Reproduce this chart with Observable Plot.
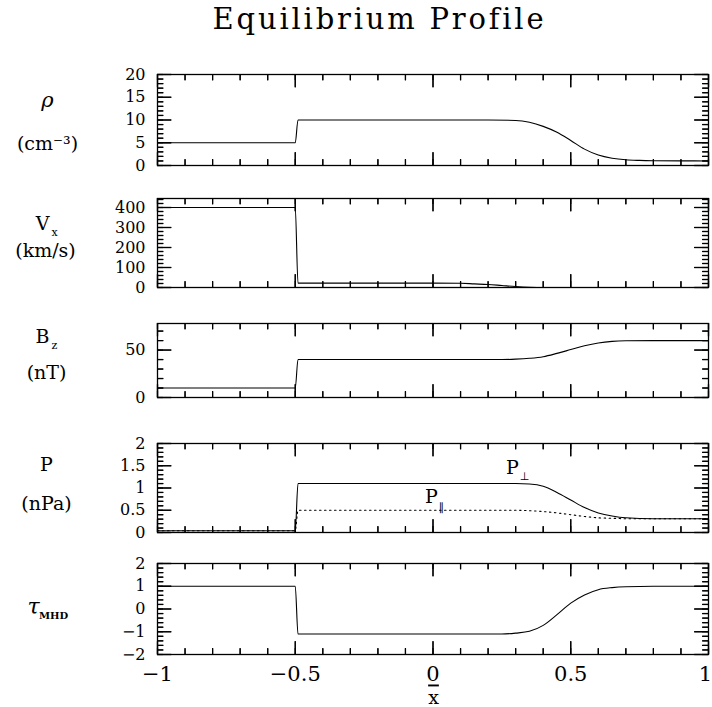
<!DOCTYPE html>
<html><head><meta charset="utf-8">
<script src="https://cdn.jsdelivr.net/npm/d3@7"></script>
<script src="https://cdn.jsdelivr.net/npm/@observablehq/plot@0.6"></script>
<style>
body{margin:0;background:#fff;}
#wrap{position:relative;width:712px;height:707px;overflow:hidden;}
#wrap svg{position:absolute;left:0;}
</style></head><body><div id="wrap"></div>
<script>
// ---- data ----
const xRho = [-1, -0.5, -0.49, 0, 0.2, 0.3, 0.35, 0.4, 0.45, 0.5, 0.55, 0.6, 0.65, 0.7, 0.75, 0.8, 0.9, 1];
const rho  = [5, 5, 10, 10, 10, 9.9, 9.5, 8.6, 7.3, 5.5, 3.6, 2.3, 1.6, 1.25, 1.12, 1.06, 1.02, 1.0];

const xVx = [-1, -0.5, -0.49, 0, 0.1, 0.15, 0.2, 0.25, 0.3, 0.35, 0.4, 0.5, 1];
const vx  = [400, 400, 22, 22, 21, 18, 15, 10, 5, 1.5, 0, 0, 0];

const xBz = [-1, -0.5, -0.49, 0, 0.25, 0.3, 0.35, 0.4, 0.45, 0.5, 0.55, 0.6, 0.65, 0.7, 0.8, 1];
const bz  = [10, 10, 40, 40, 40, 40.4, 41.3, 43, 46.5, 50.5, 54.5, 57.5, 59.2, 59.8, 60, 60];

const xPperp = [-1, -0.5, -0.49, 0, 0.25, 0.3, 0.35, 0.4, 0.45, 0.5, 0.55, 0.6, 0.65, 0.7, 0.8, 1];
const pPerp  = [0.04, 0.04, 1.1, 1.1, 1.1, 1.1, 1.09, 1.04, 0.9, 0.73, 0.56, 0.44, 0.37, 0.33, 0.31, 0.31];

const xPpar = [-1, -0.5, -0.49, 0, 0.3, 0.35, 0.4, 0.45, 0.5, 0.55, 0.6, 0.65, 0.7, 0.8, 1];
const pPar  = [0.04, 0.04, 0.5, 0.5, 0.5, 0.49, 0.47, 0.44, 0.4, 0.36, 0.33, 0.32, 0.31, 0.31, 0.31];

const xTau = [-1, -0.5, -0.49, 0, 0.25, 0.3, 0.35, 0.4, 0.45, 0.5, 0.55, 0.6, 0.65, 0.7, 0.8, 1];
const tau  = [1, 1, -1.1, -1.1, -1.1, -1.06, -0.98, -0.72, -0.25, 0.26, 0.62, 0.85, 0.94, 0.98, 1, 1];

// ---- ticks ----
const xMajor = [-1, -0.5, 0, 0.5, 1];
const xMinor = d3.range(-10, 11).map(i => i / 10);
const xTickLabels = ["−1", "−0.5", "0", "0.5", "1"];

const yRhoMajor = [0, 5, 10, 15, 20], yRhoMinor = d3.range(0, 21), yRhoLabels = ["0","5","10","15","20"];
const yVxMajor = [0, 100, 200, 300, 400], yVxMinor = d3.range(0, 445, 20), yVxLabels = ["0","100","200","300","400"];
const yBzMajor = [0, 50], yBzMinor = d3.range(0, 78, 10), yBzLabels = ["0","50"];
const yPMajor = [0, 0.5, 1, 1.5, 2], yPMinor = d3.range(0, 21).map(i => i / 10), yPLabels = ["0","0.5","1","1.5","2"];
const yTauMajor = [-2, -1, 0, 1, 2], yTauMinor = d3.range(-10, 11).map(i => i / 5), yTauLabels = ["−2","−1","0","1","2"];

const tbl = (xs, ys) => xs.map((x, i) => ({x, y: ys[i]}));

const W = 712, L = 157, R = 4;
const FW = W - L - R;
const kx = 2 / FW;
const FONT = "DejaVu Serif";

// inward ticks on all four sides
function tickMarks(yd, h, yMaj, yMin) {
  const ky = (yd[1] - yd[0]) / h;
  const [y0, y1] = yd;
  const segs = [];
  for (const xv of xMinor) {
    const len = xMajor.includes(xv) ? 13 : 6;
    segs.push({x1: xv, x2: xv, y1: y0, y2: y0 + len * ky});
    segs.push({x1: xv, x2: xv, y1: y1, y2: y1 - len * ky});
  }
  for (const yv of yMin) {
    const len = yMaj.includes(yv) ? 14 : 6;
    segs.push({x1: -1, x2: -1 + len * kx, y1: yv, y2: yv});
    segs.push({x1: 1, x2: 1 - len * kx, y1: yv, y2: yv});
  }
  const s = {stroke: "black", strokeWidth: 1.2};
  return [
    Plot.link(segs, {x1: "x1", x2: "x2", y1: "y1", y2: "y2", ...s}),
    Plot.ruleX(xMinor, {x: d => d, insetTop: h - 6, ...s}),
    Plot.ruleX(xMajor, {x: d => d, insetTop: h - 13, ...s}),
    Plot.ruleX(xMinor, {x: d => d, insetBottom: h - 6, ...s}),
    Plot.ruleX(xMajor, {x: d => d, insetBottom: h - 13, ...s}),
    Plot.ruleY(yMin, {y: d => d, insetRight: FW - 6, ...s}),
    Plot.ruleY(yMaj, {y: d => d, insetRight: FW - 14, ...s}),
    Plot.ruleY(yMin, {y: d => d, insetLeft: FW - 6, ...s}),
    Plot.ruleY(yMaj, {y: d => d, insetLeft: FW - 14, ...s})
  ];
}

function yLabels(vals, labels) {
  return Plot.text(vals, {x: -1, y: d => d, text: (d, i) => labels[i], dx: -12, textAnchor: "end",
    lineAnchor: "middle", fontSize: 16, fontFamily: FONT, fill: "black"});
}

// annotation helper: page coords (px, baseline) relative to frame top-left
function lab(txt, px, base, frameTop, size, style, weight, family) {
  return Plot.text([txt], {frameAnchor: "top-left", dx: px - L, dy: base - frameTop, text: d => d,
    textAnchor: "middle", lineAnchor: "bottom", fontSize: size, fontFamily: family || FONT,
    fontStyle: style || "normal", fontWeight: weight || "normal", fill: "black"});
}

const lineStyle = {x: "x", y: "y", curve: "monotone-x", stroke: "black", strokeWidth: 1.1};

const panels = [
  {top: 74, h: 91, mt: 74, mb: 10, yd: [0, 20], maj: yRhoMajor, mnr: yRhoMinor, labs: yRhoLabels,
   lines: [Plot.line(tbl(xRho, rho), lineStyle)],
   extra: ft => [
     lab("Equilibrium Profile", 379, 28, ft, 29),
     lab("ρ", 47, 106, ft, 21, "italic"),
     lab("(cm⁻³)", 47, 149, ft, 19)
   ]},
  {top: 198, h: 89, mt: 10, mb: 10, yd: [0, 445], maj: yVxMajor, mnr: yVxMinor, labs: yVxLabels,
   lines: [Plot.line(tbl(xVx, vx), lineStyle)],
   extra: ft => [
     lab("V", 42, 229, ft, 19),
     lab("x", 54, 235, ft, 11),
     lab("(km/s)", 45, 256, ft, 19)
   ]},
  {top: 323, h: 74, mt: 10, mb: 10, yd: [0, 78], maj: yBzMajor, mnr: yBzMinor, labs: yBzLabels,
   lines: [Plot.line(tbl(xBz, bz), lineStyle)],
   extra: ft => [
     lab("B", 42, 342, ft, 19),
     lab("z", 54, 348, ft, 11),
     lab("(nT)", 46, 378, ft, 19)
   ]},
  {top: 443, h: 89, mt: 10, mb: 10, yd: [0, 2], maj: yPMajor, mnr: yPMinor, labs: yPLabels,
   lines: [
     Plot.line(tbl(xPpar, pPar), {...lineStyle, strokeDasharray: "1.5,3.5"}),
     Plot.line(tbl(xPperp, pPerp), lineStyle)
   ],
   extra: ft => [
     lab("P", 46, 470, ft, 19),
     lab("(nPa)", 46, 509, ft, 19),
     lab("P", 512, 473, ft, 19),
     lab("⊥", 524, 479, ft, 11, "normal", "normal", "DejaVu Sans"),
     lab("P", 431, 502, ft, 19),
     lab("∥", 441, 510, ft, 11, "normal", "normal", "DejaVu Sans")
   ]},
  {top: 563, h: 91, mt: 10, mb: 53, yd: [-2, 2], maj: yTauMajor, mnr: yTauMinor, labs: yTauLabels,
   lines: [Plot.line(tbl(xTau, tau), lineStyle)],
   extra: ft => [
     lab("τ", 33, 613, ft, 22, "italic"),
     lab("MHD", 53, 618, ft, 10, "normal", "bold"),
     Plot.text(xMajor.slice(0, 4), {x: d => d, y: -2, text: (d, i) => xTickLabels[i], dy: 26,
       textAnchor: "middle", lineAnchor: "bottom", fontSize: 21, fontFamily: FONT, fill: "black"}),
     Plot.text(xMajor.slice(4), {x: d => d, y: -2, text: (d, i) => xTickLabels[4 + i], dy: 26, dx: -3,
       textAnchor: "middle", lineAnchor: "bottom", fontSize: 21, fontFamily: FONT, fill: "black"}),
     lab("x", 433, 703, ft, 19)
   ]}
];

const wrap = document.getElementById("wrap");
panels.forEach((p, k) => {
  const svg = Plot.plot({
    width: W,
    height: p.mt + p.h + p.mb,
    marginLeft: L, marginRight: R, marginTop: p.mt, marginBottom: p.mb,
    style: {background: "transparent", overflow: "visible"},
    x: {domain: [-1, 1], axis: null},
    y: {domain: p.yd, axis: null},
    marks: [
      ...p.lines,
      ...tickMarks(p.yd, p.h, p.maj, p.mnr),
      Plot.frame({stroke: "black", strokeWidth: 1.3}),
      yLabels(p.maj, p.labs),
      ...p.extra(p.top)
    ]
  });
  svg.style.top = (p.top - p.mt) + "px";
  wrap.appendChild(svg);
  d3.select(svg).selectAll("text").each(function() {
    const t = this.textContent;
    if (t === "Equilibrium Profile") this.style.letterSpacing = "2.8px";
    if (k === 4 && t === "x") this.style.textDecoration = "overline";
  });
});
</script>
</body></html>
